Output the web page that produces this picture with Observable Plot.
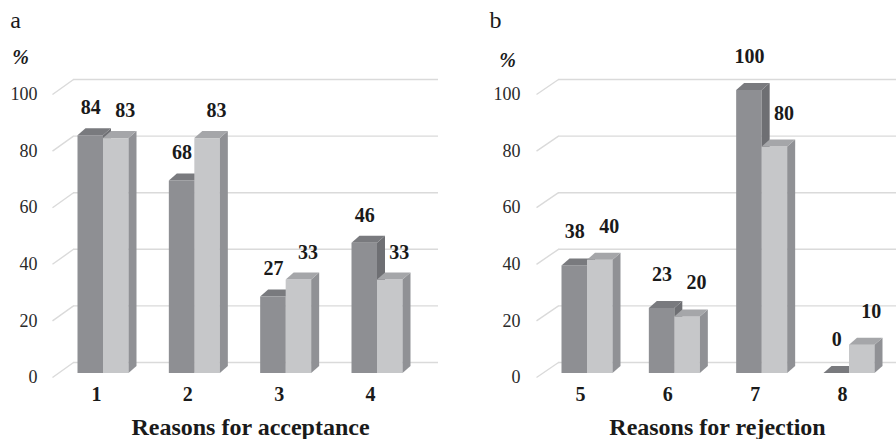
<!DOCTYPE html>
<html>
<head>
<meta charset="utf-8">
<script src="https://cdn.jsdelivr.net/npm/d3@7"></script>
<script src="https://cdn.jsdelivr.net/npm/@observablehq/plot@0.6"></script>
<style>
  html, body { margin: 0; padding: 0; background: #fff; }
  #wrap { display: flex; width: 896px; height: 439px; }
  #wrap svg text { font-family: "Liberation Serif", "DejaVu Serif", serif !important; }
</style>
</head>
<body>
<div id="wrap"></div>
<script>
// ---- data ----
const catsA = ["1", "2", "3", "4"];
const darkA = [84, 68, 27, 46];
const lightA = [83, 83, 33, 33];
const catsB = ["5", "6", "7", "8"];
const darkB = [38, 23, 100, 0];
const lightB = [40, 20, 80, 10];
const yTicks = [0, 20, 40, 60, 80, 100];
const titleA = "Reasons for acceptance";
const titleB = "Reasons for rejection";

// ---- style ----
const FONT = "Liberation Serif, DejaVu Serif, serif";
const COL = {
  darkFront: "#8e8f93", darkSide: "#6e6f73", darkTop: "#797a7e",
  lightFront: "#c6c7c9", lightSide: "#909195", lightTop: "#a5a6a9",
  grid: "#dadada", text: "#1a1a1a", tick: "#2a2a2a"
};

function panel(o) {
  const W = 448, H = 439;
  const yRange = [373, 90];
  const unitX = (o.xRange[1] - o.xRange[0]) / (o.cats.length - 1); // px per category
  const unitY = (yRange[0] - yRange[1]) / 100;                      // px per %
  const px2x = p => (p - o.xRange[0]) / unitX;
  const BW = 25.5 / unitX;   // bar width
  const DX = 8 / unitX;      // depth x
  const DY = 7 / unitY;      // depth y

  const bars = [];
  o.cats.forEach((c, i) => {
    bars.push({key: "d" + i, series: "dark", x1: i - BW, x2: i, v: o.dark[i]});
    bars.push({key: "l" + i, series: "light", x1: i, x2: i + BW, v: o.light[i]});
  });

  const marks = [];
  // back wall gridlines
  marks.push(Plot.ruleY(yTicks, {
    y: d => d, x1: px2x(o.gridX[0]), x2: px2x(o.gridX[1]), dy: -11,
    stroke: COL.grid, strokeWidth: 1.4
  }));
  // diagonal floor/wall lines
  marks.push(Plot.link(yTicks, {
    x1: px2x(o.diagX[0]), x2: px2x(o.diagX[1]),
    y1: d => d - 4 / unitY, y2: d => d + 11 / unitY,
    stroke: COL.grid, strokeWidth: 1.4
  }));
  // tick labels
  marks.push(Plot.text(yTicks, {
    y: d => d, text: d => String(d), frameAnchor: "left", dx: o.tickRight, dy: 4,
    textAnchor: "end", lineAnchor: "middle", fontSize: 18, fill: COL.tick, fontFamily: FONT
  }));

  // 3D bars: draw per bar in order (dark then light)
  for (const b of bars) {
    const front = b.series === "dark" ? COL.darkFront : COL.lightFront;
    const side = b.series === "dark" ? COL.darkSide : COL.lightSide;
    const top = b.series === "dark" ? COL.darkTop : COL.lightTop;
    marks.push(Plot.rect([b], {x1: "x1", x2: "x2", y1: 0, y2: "v", fill: front}));
    marks.push(Plot.areaY([
      {x: b.x2, y1: 0, y2: b.v},
      {x: b.x2 + DX, y1: DY, y2: b.v + DY}
    ], {x: "x", y1: "y1", y2: "y2", fill: side}));
    marks.push(Plot.areaX([
      {y: b.v, x1: b.x1, x2: b.x2},
      {y: b.v + DY, x1: b.x1 + DX, x2: b.x2 + DX}
    ], {y: "y", x1: "x1", x2: "x2", fill: top}));
  }

  // value labels
  marks.push(Plot.text(bars, {
    x: d => (d.x1 + d.x2) / 2 + (d.series === "light" ? 9 / unitX : 0),
    y: "v", text: d => String(d.v), dy: o.labelDy,
    fontSize: 20, fontWeight: "bold", fill: COL.text, fontFamily: FONT, lineAnchor: "middle"
  }));
  // category labels
  marks.push(Plot.text(o.cats, {
    x: (d, i) => i - 7 / unitX, y: 0, text: d => d, dy: 21, lineAnchor: "middle",
    fontSize: 20, fontWeight: "bold", fill: COL.text, fontFamily: FONT
  }));
  // panel letter, % and title
  marks.push(Plot.text([o.letter], {
    frameAnchor: "top-left", text: d => d, dx: o.letterX, dy: 20, lineAnchor: "middle",
    textAnchor: "middle", fontSize: 24, fill: COL.text, fontFamily: FONT
  }));
  marks.push(Plot.text(["%"], {
    frameAnchor: "top-left", text: d => d, dx: o.pctX, dy: o.pctY, lineAnchor: "middle",
    textAnchor: "middle", fontSize: 20, fontStyle: "italic", fontWeight: "bold",
    fill: COL.text, fontFamily: FONT
  }));
  marks.push(Plot.text([o.title], {
    frameAnchor: "top-left", text: d => d, dx: o.titleX, dy: 427, lineAnchor: "middle",
    textAnchor: "middle", fontSize: 24, fontWeight: "bold", fill: COL.text, fontFamily: FONT
  }));

  return Plot.plot({
    width: W, height: H,
    marginTop: 0, marginBottom: 0, marginLeft: 0, marginRight: 0,
    x: {domain: [0, o.cats.length - 1], range: o.xRange, axis: null},
    y: {domain: [0, 100], range: yRange, axis: null},
    style: {fontFamily: FONT, background: "#fff", overflow: "visible"},
    marks
  });
}

const wrap = document.getElementById("wrap");
wrap.append(panel({
  letter: "a", cats: catsA, dark: darkA, light: lightA, title: titleA,
  xRange: [103, 377], gridX: [73, 438], diagX: [52, 73], tickRight: 37,
  letterX: 15, pctX: 20, pctY: 57, titleX: 250, labelDy: -28
}));
wrap.append(panel({
  letter: "b", cats: catsB, dark: darkB, light: lightB, title: titleB,
  xRange: [139, 401], gridX: [110, 448], diagX: [88, 110], tickRight: 72,
  letterX: 47, pctX: 59, pctY: 60, titleX: 269, labelDy: -34
}));
</script>
</body>
</html>
